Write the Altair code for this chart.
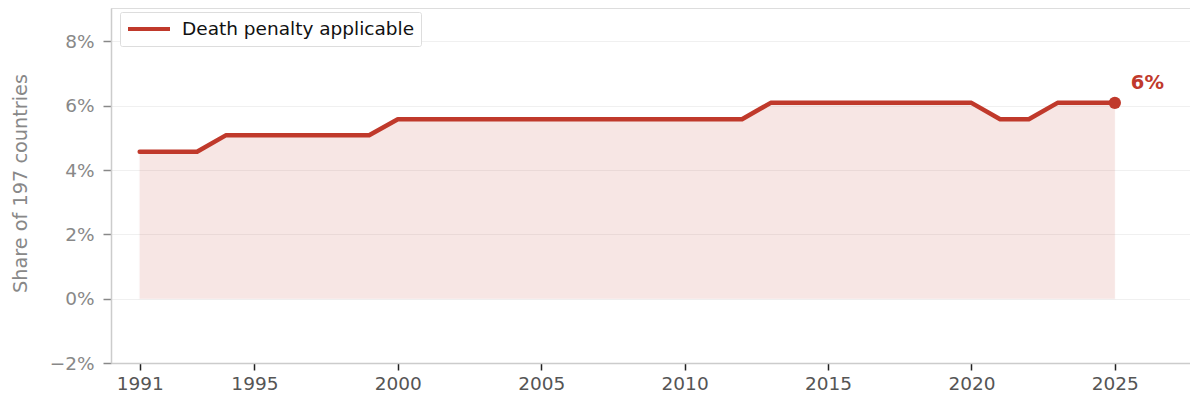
import altair as alt
import pandas as pd

years = list(range(1991, 2026))
share = [4.57, 4.57, 4.57,
         5.08, 5.08, 5.08, 5.08, 5.08, 5.08,
         5.58, 5.58, 5.58, 5.58, 5.58, 5.58, 5.58, 5.58, 5.58, 5.58, 5.58, 5.58, 5.58,
         6.09, 6.09, 6.09, 6.09, 6.09, 6.09, 6.09, 6.09,
         5.58, 5.58,
         6.09, 6.09, 6.09]
series_name = "Death penalty applicable"
x_ticks = [1991, 1995, 2000, 2005, 2010, 2015, 2020, 2025]
y_ticks = [-2, 0, 2, 4, 6, 8]

RED = "#c0392b"
FONT = "DejaVu Sans"

df = pd.DataFrame({"year": years, "share": share, "series": [series_name] * len(years)})
last = df.tail(1)

x = alt.X("year:Q",
          scale=alt.Scale(domain=[1990, 2027.62], nice=False, zero=False),
          axis=alt.Axis(values=x_ticks, format="d", title=None, grid=False,
                        tickColor="#222222", tickWidth=1.5, tickSize=7,
                        labelColor="#555555", labelFontSize=18.5, labelFont=FONT,
                        labelPadding=4, domainColor="#cccccc", domainWidth=1.5,
                        labelFlush=False))
y = alt.Y("share:Q",
          scale=alt.Scale(domain=[-2, 9.04], nice=False, zero=False),
          axis=alt.Axis(values=y_ticks, labelExpr="format(datum.value, 'd') + '%'",
                        title="Share of 197 countries", titleFontSize=19.3, titleFont=FONT,
                        titleColor="#888888", titleFontWeight="normal",
                        titleAngle=270, titleX=-91, titleY=175, titleAlign="center",
                        titleBaseline="middle",
                        grid=True, gridColor="#f0f0f0", gridWidth=1,
                        tickColor="#888888", tickWidth=1.5, tickSize=8,
                        labelColor="#888888", labelFontSize=18.5, labelFont=FONT,
                        labelPadding=9, domainColor="#cccccc", domainWidth=1.5))

area = alt.Chart(df).mark_area(color=RED, opacity=0.12, stroke=RED, strokeOpacity=0.12,
                               strokeWidth=1.5).encode(
    x=x, y=y, y2=alt.datum(0))

line = alt.Chart(df).mark_line(strokeWidth=4.5, strokeCap="round", strokeJoin="round").encode(
    x=x, y=y,
    color=alt.Color("series:N",
                    scale=alt.Scale(domain=[series_name], range=[RED]),
                    legend=alt.Legend(title=None, orient="none", legendX=9, legendY=4,
                                      symbolType="stroke", symbolStrokeWidth=4,
                                      symbolSize=1764, clipHeight=22,
                                      labelFontSize=18.5, labelFont=FONT, labelColor="#111111",
                                      labelOffset=10, labelLimit=500, padding=6,
                                      fillColor="white", strokeColor="#dddddd",
                                      cornerRadius=2)))

dot = alt.Chart(last).mark_circle(color=RED, size=150, opacity=1).encode(x=x, y=y)

label = alt.Chart(last).transform_calculate(
    lbl="format(datum.share, '.0f') + '%'"
).mark_text(color=RED, fontSize=19.5, fontWeight="bold", font=FONT,
            align="left", baseline="middle", dx=16, dy=-20).encode(
    x=x, y=y, text="lbl:N")

chart = alt.layer(area, line, dot, label).properties(
    width=1079, height=355,
    autosize=alt.AutoSizeParams(type="none"),
    padding={"left": 103, "top": 0, "right": 0, "bottom": 37},
).configure_view(stroke=None).configure(background="white")

chart.save("out.html", embed_options={"renderer": "svg", "actions": False})
